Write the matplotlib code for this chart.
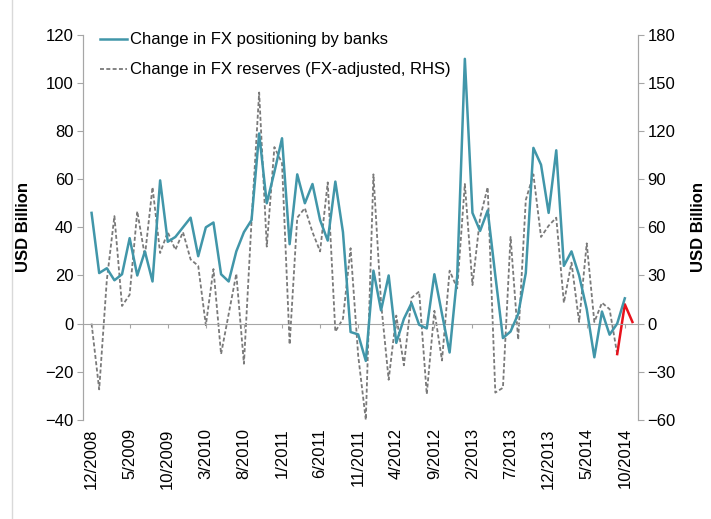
import matplotlib.pyplot as plt
import numpy as np
from matplotlib.lines import Line2D

plt.rcParams['font.family'] = ['Liberation Sans', 'DejaVu Sans']

# Monthly changes, 12/2008 .. 11/2014 (USD bn)
banks = [
    46, 21, 23, 18, 20.5, 35.5, 20, 30, 17.5, 59.5,
    34, 36, 40, 44, 28, 40, 42, 20.5, 17.5, 30,
    38, 43, 79, 50, 63, 77, 33, 62, 50, 58,
    43, 34.5, 59, 38, -3.5, -4.5, -15.5, 22, 5.5, 20,
    -8, 2, 8.5, -0.5, -2, 20.5, 4, -12, 20, 110,
    46, 38.5, 47, 20, -6, -3.3, 4, 21, 73, 66,
    46, 72, 24, 30, 20, 6, -14, 5, -4.6, 0,
    10.5,
]

# FX-adjusted reserves change, right-hand scale (USD bn)
reserves = [
    0, -41, 27, 67, 11, 18, 70, 42, 85, 44,
    57, 46, 57, 40, 36, -1, 34, -19, 6, 31,
    -25, 64, 144, 48, 110, 100, -13, 66, 72, 57,
    45, 88, -5, 3, 47, -20, -60, 93, 13, -35,
    5, -26, 16, 20, -44, 8, -23, 33, 22, 87,
    24, 66, 85, -43, -40, 54, -10, 77, 93, 54,
    61, 66, 13, 38, 1, 50, 1, 13, 9, -19,
    12, 1,
]

tick_labels = ['12/2008', '5/2009', '10/2009', '3/2010', '8/2010', '1/2011',
               '6/2011', '11/2011', '4/2012', '9/2012', '2/2013', '7/2013',
               '12/2013', '5/2014', '10/2014']

teal = '#4196a9'
grey = '#7a7a7a'
axis_grey = '#a6a6a6'

n = len(reserves)
x = np.arange(n)
xb = np.arange(len(banks))
n_est = 3  # latest reserve months drawn in red

fig = plt.figure(figsize=(7.11, 5.19), dpi=100)
ax = fig.add_axes([0.117, 0.191, 0.78, 0.742])
ax2 = ax.twinx()

ax.plot(xb, banks, color=teal, lw=1.8, label='Change in FX positioning by banks', zorder=3)
ax2.plot(x[:n - n_est + 1], reserves[:n - n_est + 1], color=grey, lw=1.3,
         ls=(0, (2.2, 1.3)), label='Change in FX reserves (FX-adjusted, RHS)')
ax2.plot(x[n - n_est:], reserves[n - n_est:], color='#e8121c', lw=1.8)

ax.set_zorder(ax2.get_zorder() + 1)
ax.patch.set_visible(False)

ax.set_ylim(-40, 120)
ax.set_yticks(np.arange(-40, 121, 20))
ax2.set_ylim(-60, 180)
ax2.set_yticks(np.arange(-60, 181, 30))
ax.set_xlim(-1.1, n - 0.3)

ax.set_xticks(np.arange(0, n, 5))
ax.set_xticklabels(tick_labels, rotation=90)
ax.tick_params(axis='x', length=0, pad=6, labelsize=12)
ax.tick_params(axis='y', length=4, color=axis_grey, labelsize=12, pad=3)
ax2.tick_params(axis='y', length=4, color=axis_grey, labelsize=12, pad=3)

for a in (ax, ax2):
    a.spines['top'].set_visible(False)
    a.spines['bottom'].set_visible(False)
    a.spines['left'].set_color(axis_grey)
    a.spines['right'].set_color(axis_grey)

# category axis crossing at zero
zero = ax.secondary_xaxis(40 / 160)
zero.set_xticks(np.arange(0, n, 5))
zero.set_xticklabels([])
zero.tick_params(length=3, color=axis_grey, direction='out')
zero.spines['bottom'].set_color(axis_grey)

ax.set_ylabel('USD Billion', fontsize=12, fontweight='bold', labelpad=10)
ax2.set_ylabel('USD Billion', fontsize=12, fontweight='bold', labelpad=11)

h1, l1 = ax.get_legend_handles_labels()
h2, l2 = ax2.get_legend_handles_labels()
ax.legend(h1 + h2, l1 + l2, loc='upper left', bbox_to_anchor=(0.003, 1.045),
          frameon=False, fontsize=12, handlelength=1.6, handletextpad=0.2,
          labelspacing=0.9)

# chart-area border on the left edge
fig.add_artist(Line2D([12 / 711, 12 / 711], [0, 1], transform=fig.transFigure,
                      color='#d9d9d9', lw=1))

fig.savefig('out.png', dpi=100)
